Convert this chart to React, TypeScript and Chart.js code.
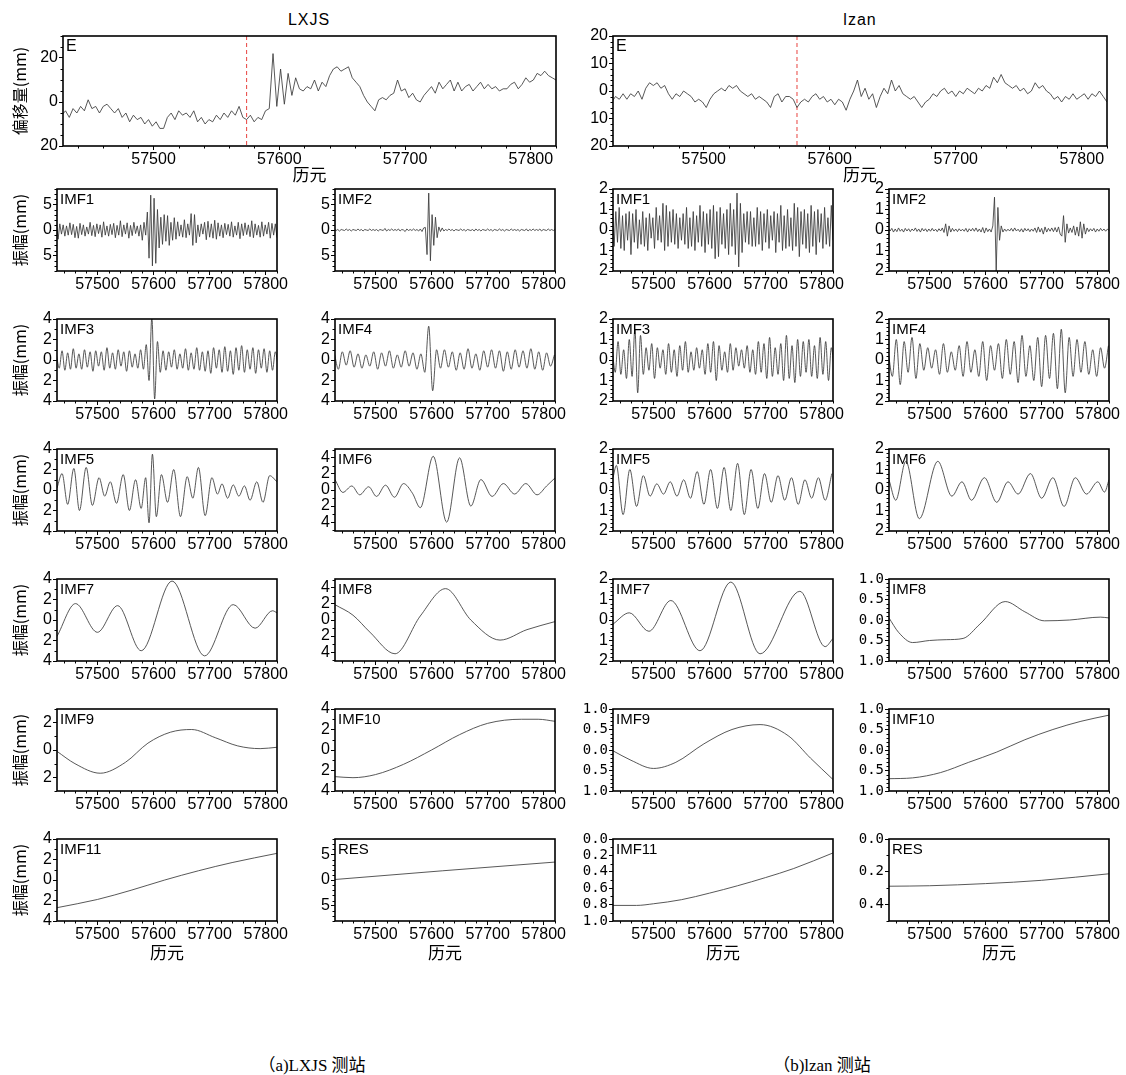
import React, { useEffect, useRef } from "react";
import { Chart, registerables } from "chart.js";
Chart.register(...registerables);

// ---------------- axis data ----------------
const XMIN = 57428;
const XMAX = 57820;
const X_TICKS = [57500, 57600, 57700, 57800];
const X_MINOR = 20;
const EVENT_EPOCH = 57574;

// sampling grids for the sampled series
const NOISE_START = 57427;
const NOISE_STEP = 3;
const OSC3_STEP = 5;
const OSC4_STEP = 7;

// ---------------- LXJS (E) ----------------
const LXJS_E = [
  -6, -4, -7, -3, -5, -2, -4, 1, -3, -2, -5, -2,
  -1, -3, -5, -3, -7, -5, -9, -6, -8, -7, -10, -8,
  -11, -9, -12, -12, -7, -5, -8, -4, -6, -5, -7, -4,
  -9, -7, -10, -8, -9, -6, -8, -5, -7, -4, -6, -2,
  -7, -8, -6, -9, -7, -8, -4, -3, 22, -2, 15, -1,
  13, 3, 11, 6, 5, 7, 6, 10, 5, 9, 7, 12,
  15, 16, 14, 15, 16, 11, 9, 7, 3, 0, -2, -4,
  1, 2, 1, 3, 4, 10, 5, 6, 2, 4, 1, 0,
  3, 5, 7, 4, 9, 6, 8, 10, 5, 9, 5, 7,
  8, 5, 7, 9, 6, 8, 6, 7, 5, 6, 6, 8,
  9, 6, 8, 11, 9, 10, 13, 12, 14, 12, 11, 10,
];
const L_IMF1 = [
  1.5, -1.8, 1.2, -0.8, 1.0, -1.2, 0.8, -1.0, 1.4, -0.9, 1.1, -1.5,
  0.7, -1.6, 1.3, -0.9, 1.0, -1.2, 0.6, -0.8, 1.5, -1.1, 0.9, -1.3,
  1.2, -0.7, 1.0, -1.4, 1.6, -1.0, 0.8, -1.2, 1.1, -0.9, 1.3, -1.5,
  0.9, -1.0, 1.8, -1.3, 1.0, -0.8, 1.4, -1.6, 0.9, -1.1, 1.5, -0.7,
  0.8, -1.2, 1.0, -2.0, 1.5, -1.0, 3.5, -5.5, 6.8, -7.0, 6.2, -6.5,
  4.0, -3.5, 2.5, -2.8, 3.0, -2.2, 2.8, -3.0, 1.5, -2.0, 2.4, -1.8,
  1.6, -1.2, 1.0, -1.4, 2.0, -1.5, 1.2, -1.0, 3.2, -3.0, 3.0, -2.5,
  1.0, -1.3, 1.2, -0.8, 1.5, -1.9, 1.7, -1.4, 1.2, -1.6, 1.9, -1.8,
  1.4, -1.2, 1.0, -1.5, 1.3, -0.9, 1.1, -1.2, 1.6, -1.4, 0.8, -1.0,
  1.5, -1.7, 1.2, -1.1, 1.4, -0.9, 1.0, -1.3, 1.8, -1.5, 1.2, -1.0,
  0.9, -1.4, 1.6, -1.2, 1.0, -0.8, 1.5, -1.6, 1.3, -1.0, 1.2, -1.5,
];
const L_IMF2 = [
  0.2, -0.1, 0.1, -0.2, 0.1, 0, -0.1, 0.2, -0.1, 0.1, -0.2, 0.1,
  0, -0.1, 0.2, -0.1, 0.1, -0.2, 0.1, 0, -0.1, 0.2, -0.1, 0.1,
  -0.1, 0.1, -0.2, 0.1, 0, -0.1, 0.3, -0.2, 0.1, -0.1, 0.2, -0.1,
  0.1, -0.1, 0.2, -0.2, 0.1, 0, -0.3, 0.2, -0.1, 0.1, -0.1, 0.2,
  -0.1, 0.1, -0.2, 0.2, -0.3, 0.4, 0.5, -4.8, 7.2, -6.0, 3.0, -3.0,
  2.5, -1.5, 0.6, -0.3, 0.4, -0.2, 0.1, -0.1, 0.2, -0.1, 0.1, -0.2,
  0.1, 0, -0.1, 0.2, -0.1, 0.1, -0.2, 0.1, 0, -0.1, 0.1, -0.2,
  0.2, -0.1, 0.1, -0.2, 0.1, 0, -0.1, 0.2, -0.1, 0.1, -0.2, 0.1,
  0, -0.1, 0.2, -0.1, 0.1, -0.2, 0.1, 0, -0.1, 0.2, -0.1, 0.1,
  -0.1, 0.1, -0.2, 0.1, 0, -0.1, 0.2, -0.2, 0.1, -0.1, 0.2, -0.1,
  0.1, -0.1, 0.2, -0.2, 0.1, 0, -0.1, 0.2, -0.1, 0.1, -0.1, 0.1,
];
const L_IMF3 = [
  0.5, -0.8, 0.9, -1.0, 0.7, -0.9, 1.1, -0.8, 0.6, -0.9,
  1.0, -0.7, 0.8, -1.1, 0.9, -0.6, 0.8, -1.0, 1.2, -0.8,
  0.7, -0.9, 1.0, -0.6, 0.8, -1.1, 0.9, -0.7, 0.6, -0.8,
  1.0, -0.9, 1.5, -2.0, 4.2, -3.8, 1.8, -1.2, 0.9, -1.0,
  0.8, -0.7, 1.0, -0.9, 0.6, -0.8, 1.1, -1.0, 0.7, -0.9,
  1.2, -1.0, 0.8, -1.1, 0.9, -1.3, 1.2, -0.8, 1.0, -1.2,
  1.3, -1.1, 0.9, -1.4, 1.2, -1.0, 1.4, -1.2, 1.0, -0.9,
  1.2, -1.3, 1.0, -0.8, 1.1, -1.2, 0.9, -1.0, 0.8, -0.6,
];
const L_IMF4 = [
  0.6, -0.9, 0.8, -0.5, 0.9, -0.7, 0.6, -0.8, 0.5, -0.6,
  0.8, -0.9, 0.7, -0.6, 0.9, -0.8, 0.5, -0.7, 0.9, -0.6,
  0.7, -0.9, 0.6, -1.2, 3.3, -3.0, 1.0, -0.8, 1.0, -0.7,
  0.8, -1.0, 0.7, -0.9, 1.1, -0.8, 0.6, -1.0, 0.9, -0.7,
  1.0, -0.8, 0.9, -1.1, 0.8, -0.9, 1.0, -0.7, 0.9, -0.8,
  1.1, -0.9, 0.8, -1.0, 0.7, -0.6, 0.5,
];
const L_IMF5_X = [57428, 57437, 57447, 57458, 57468, 57480, 57491, 57503, 57513, 57523, 57534, 57546, 57557, 57568, 57578, 57586, 57592, 57598, 57605, 57614, 57625, 57636, 57648, 57660, 57670, 57680, 57692, 57704, 57714, 57722, 57732, 57742, 57752, 57762, 57772, 57784, 57795, 57807, 57820];
const L_IMF5_Y = [0.2, 1.6, -1.4, 2.1, -2.0, 2.2, -1.5, 1.2, -0.6, 0.8, -1.3, 1.5, -2.0, 1.0, -1.8, 1.2, -3.2, 3.5, -2.6, 1.5, -1.2, 2.0, -2.6, 1.3, -0.8, 2.2, -2.5, 1.2, -0.4, 0.6, -0.8, 0.5, -0.6, 0.4, -1.0, 0.8, -1.2, 1.4, 0.8];
const L_IMF6_X = [57428, 57442, 57458, 57472, 57488, 57502, 57518, 57534, 57550, 57566, 57580, 57603, 57627, 57650, 57670, 57688, 57708, 57728, 57748, 57768, 57788, 57805, 57820];
const L_IMF6_Y = [1.3, -0.3, 0.5, -0.6, 0.4, -0.8, 0.6, -0.9, 0.8, -0.4, -2.2, 4.2, -4.0, 4.0, -2.0, 1.3, -0.8, 0.8, -0.5, 0.8, -0.6, 0.5, 1.5];
const L_IMF7_X = [57428, 57461, 57500, 57536, 57578, 57633, 57691, 57742, 57781, 57812, 57820];
const L_IMF7_Y = [-1.6, 1.6, -1.2, 1.4, -3.0, 3.8, -3.5, 1.5, -0.8, 0.9, 0.7];
const L_IMF8_X = [57428, 57460, 57490, 57535, 57580, 57625, 57670, 57722, 57770, 57820];
const L_IMF8_Y = [1.9, 0.6, -1.5, -4.2, 0.5, 3.9, 0.0, -2.5, -1.2, -0.2];
const L_IMF9_X = [57428, 57460, 57505, 57550, 57590, 57630, 57668, 57710, 57750, 57790, 57820];
const L_IMF9_Y = [-0.1, -1.0, -1.7, -0.9, 0.5, 1.3, 1.5, 0.9, 0.3, 0.1, 0.2];
const L_IMF10_X = [57428, 57460, 57500, 57550, 57600, 57650, 57700, 57760, 57790, 57820];
const L_IMF10_Y = [-2.6, -2.7, -2.4, -1.4, 0.0, 1.5, 2.6, 3.0, 3.0, 2.8];
const L_IMF11_X = [57428, 57500, 57560, 57620, 57680, 57740, 57820];
const L_IMF11_Y = [-2.7, -1.9, -1.0, 0.0, 0.9, 1.7, 2.6];
const L_RES_X = [57428, 57620, 57820];
const L_RES_Y = [0.1, 1.8, 3.5];

// ---------------- lzan (E) ----------------
const LZAN_E = [
  -4, -2, -3, -1, -3, -1, -2, 0, -3, 1, 3, 2,
  3, 1, 2, -1, -3, -1, -2, 0, -1, -2, -4, -3,
  -4, -6, -3, -1, 0, 1, 0, 2, 1, 2, 0, -1,
  -2, -1, -3, -2, -3, -4, -6, -2, -1, -4, -2, -2,
  -3, -6, -4, -3, -4, -2, -1, -3, -2, -4, -3, -5,
  -3, -4, -7, -3, 0, 4, -2, 1, -3, -1, -6, -2,
  1, -1, 4, 0, 2, -1, -2, -3, -2, -4, -6, -4,
  -3, -1, -2, 0, 1, -1, 0, -2, 0, -1, 1, 0,
  -1, 1, 0, 2, 1, 5, 3, 6, 3, 2, 1, 2,
  0, 1, -1, 0, 3, 1, 2, 0, -1, -3, -2, -4,
  -2, -3, -1, -3, -2, -1, -3, -1, -2, 0, -2, -4,
];
const R_IMF1 = [
  1.0, -0.8, 0.9, -0.6, 1.1, -0.9, 0.7, -1.0, 0.8, -0.5, 0.9, -1.2,
  0.8, -0.6, 1.0, -0.9, 0.5, -0.7, 0.9, -0.8, 0.6, -1.0, 0.8, -0.4,
  0.6, -0.9, 1.1, -0.5, 0.7, -0.6, 1.3, -1.0, 1.2, -0.8, 0.9, -0.6,
  1.0, -0.7, 0.8, -0.9, 0.6, -0.5, 0.8, -0.7, 1.1, -0.9, 0.6, -0.8,
  0.9, -1.0, 0.7, -0.6, 1.2, -0.8, 0.9, -1.1, 0.8, -0.7, 1.0, -0.9,
  1.2, -1.4, 0.9, -1.3, 1.1, -0.7, 0.8, -0.9, 1.0, -1.2, 1.3, -0.8,
  1.0, -1.2, 1.8, -1.8, 1.3, -1.1, 0.8, -0.6, 0.9, -0.7, 0.9, -0.8,
  0.6, -0.8, 1.1, -0.7, 0.9, -1.0, 0.8, -0.6, 1.0, -0.9, 0.7, -0.5,
  0.9, -1.1, 0.8, -0.6, 1.2, -1.0, 0.7, -0.9, 1.0, -0.8, 0.6, -1.0,
  1.3, -0.8, 1.1, -1.3, 0.9, -0.7, 1.0, -0.9, 0.8, -1.1, 1.2, -0.8,
  0.9, -1.2, 1.0, -0.6, 0.8, -0.9, 1.1, -0.7, 0.6, -0.8, 1.2, -0.5,
];
const R_IMF2 = [
  0.1, -0.05, 0.08, -0.1, 0.05, -0.08, 0.1, -0.06, 0.04, -0.1, 0.08, -0.05,
  0.06, -0.08, 0.05, -0.04, 0.1, -0.07, 0.05, -0.1, 0.08, -0.05, 0.06, -0.08,
  0.05, -0.06, 0.08, -0.05, 0.04, -0.08, 0.06, -0.05, 0.1, -0.12, 0.3, -0.3,
  0.2, -0.1, 0.08, -0.06, 0.05, -0.08, 0.06, -0.05, 0.04, -0.06, 0.08, -0.1,
  0.06, -0.05, 0.08, -0.06, 0.1, -0.08, 0.05, -0.1, 0.12, -0.15, 0.1, -0.08,
  0.05, -0.1, 0.2, 1.6, -2.0, 1.1, -0.5, 0.2, -0.1, 0.05, -0.06, 0.04,
  -0.05, 0.08, -0.06, 0.1, -0.05, 0.04, -0.08, 0.06, -0.1, 0.08, -0.05, 0.06,
  -0.08, 0.05, -0.06, 0.1, -0.12, 0.15, -0.1, 0.08, -0.2, 0.15, -0.1, 0.08,
  -0.06, 0.1, -0.08, 0.12, -0.1, 0.15, -0.2, -0.3, 0.7, -0.6, 0.3, -0.15,
  0.1, -0.12, 0.2, -0.25, 0.15, -0.3, 0.4, -0.4, 0.3, -0.2, 0.1, -0.08,
  0.06, -0.05, 0.08, -0.1, 0.05, -0.06, 0.08, -0.04, 0.05, -0.06, 0.04, -0.02,
];
const R_IMF3 = [
  0.4, -0.6, 0.9, -0.7, 0.5, -0.9, 1.0, -0.8, 1.5, -1.6,
  1.2, -0.7, 0.6, -0.5, 0.8, -0.9, 0.6, -0.4, 0.5, -0.7,
  0.8, -0.6, 0.5, -0.8, 0.7, -0.5, 0.9, -0.6, 0.4, -0.5,
  0.6, -0.4, 0.5, -0.7, 0.8, -0.6, 0.9, -1.0, 0.7, -0.5,
  0.4, -0.6, 0.8, -0.5, 0.6, -0.3, 0.5, -0.4, 0.7, -0.6,
  0.5, -0.7, 0.9, -0.6, 0.8, -0.9, 1.1, -0.8, 0.6, -0.7,
  0.8, -1.0, 1.2, -0.9, 0.7, -1.1, 1.0, -0.8, 0.9, -0.6,
  1.0, -0.8, 0.7, -0.9, 1.1, -0.7, 0.9, -1.0, 0.6, -0.4,
];
const R_IMF4 = [
  0.3, -0.8, 1.0, -1.2, 0.9, -0.6, 1.1, -0.9, 0.8, -0.5,
  0.6, -0.4, 0.5, -0.7, 0.8, -0.6, 0.4, -0.5, 0.7, -0.8,
  0.9, -0.6, 0.5, -0.8, 0.9, -1.0, 0.7, -0.5, 0.8, -0.9,
  1.0, -0.7, 0.9, -1.1, 1.2, -0.8, 0.7, -1.0, 1.1, -1.3,
  1.2, -0.9, 1.3, -1.4, 1.5, -1.6, 1.1, -0.8, 1.0, -0.6,
  0.9, -0.7, 0.5, -0.8, 0.6, -0.4, 0.7,
];
const R_IMF5_X = [57428, 57434, 57446, 57458, 57470, 57482, 57494, 57506, 57518, 57530, 57542, 57554, 57566, 57578, 57590, 57602, 57614, 57626, 57638, 57650, 57662, 57674, 57686, 57698, 57710, 57722, 57734, 57746, 57758, 57770, 57782, 57794, 57806, 57818];
const R_IMF5_Y = [0.6, 1.2, -1.2, 1.0, -0.8, 0.7, -0.3, 0.3, -0.2, 0.4, -0.3, 0.5, -0.4, 0.9, -0.7, 1.0, -0.9, 1.1, -1.0, 1.3, -1.2, 1.0, -0.9, 0.8, -0.6, 0.7, -0.5, 0.6, -0.7, 0.5, -0.4, 0.6, -0.5, 0.8];
const R_IMF6_X = [57428, 57440, 57458, 57482, 57515, 57540, 57558, 57575, 57598, 57620, 57640, 57658, 57680, 57700, 57720, 57740, 57760, 57780, 57800, 57812, 57820];
const R_IMF6_Y = [0.5, -0.5, 1.4, -1.4, 1.4, -0.3, 0.4, -0.5, 0.6, -0.6, 0.4, -0.2, 0.8, -0.4, 0.6, -0.8, 0.6, -0.2, 0.4, -0.1, 0.5];
const R_IMF7_X = [57428, 57457, 57492, 57531, 57583, 57638, 57690, 57761, 57806, 57820];
const R_IMF7_Y = [-0.2, 0.35, -0.55, 0.95, -1.5, 1.85, -1.65, 1.4, -1.3, -0.9];
const R_IMF8_X = [57428, 57445, 57470, 57500, 57530, 57560, 57590, 57635, 57670, 57705, 57750, 57805, 57820];
const R_IMF8_Y = [0.05, -0.3, -0.55, -0.5, -0.48, -0.45, -0.1, 0.45, 0.2, -0.02, 0.0, 0.07, 0.05];
const R_IMF9_X = [57428, 57460, 57500, 57540, 57590, 57640, 57690, 57740, 57780, 57820];
const R_IMF9_Y = [-0.02, -0.25, -0.45, -0.3, 0.15, 0.5, 0.62, 0.35, -0.2, -0.72];
const R_IMF10_X = [57428, 57470, 57520, 57570, 57620, 57670, 57720, 57770, 57820];
const R_IMF10_Y = [-0.7, -0.68, -0.55, -0.3, -0.05, 0.25, 0.5, 0.7, 0.85];
const R_IMF11_X = [57428, 57470, 57500, 57550, 57600, 57650, 57700, 57750, 57820];
const R_IMF11_Y = [-0.81, -0.81, -0.79, -0.74, -0.66, -0.57, -0.47, -0.36, -0.17];
const R_RES_X = [57428, 57500, 57600, 57700, 57820];
const R_RES_Y = [-0.288, -0.285, -0.272, -0.252, -0.212];

// tick sets
const T_E_LXJS = [-20, 0, 20];
const T_E_LZAN = [-20, -10, 0, 10, 20];
const T_8 = [-5, 0, 5];
const T_4 = [-4, -2, 0, 2, 4];
const T_3 = [-2, 0, 2];
const T_2 = [-2, -1, 0, 1, 2];
const T_1 = [-1, -0.5, 0, 0.5, 1];
const T_11R = [-1, -0.8, -0.6, -0.4, -0.2, 0];
const T_RESR = [-0.4, -0.2, 0];

// ---------------- layout (positions only) ----------------
const COL_LEFT = [57, 335, 613, 889];
const COL_W = 220;
const ROW_TOP = [189, 319, 449, 579, 709, 839];
const ROW_H = 82;

const NUM_FONT = '"Liberation Sans Narrow", "Liberation Sans", Arial, sans-serif';
const MONO_FONT = '"DejaVu Sans Mono", monospace';
const CJK_FONT = '"Noto Sans CJK SC", "Liberation Sans", sans-serif';
const LABEL_FONT = '"Liberation Sans", Arial, sans-serif';

type Spec = {
  key: string;
  label: string;
  rect: [number, number, number, number];
  pad: [number, number, number, number];
  xs: number[];
  ys: number[];
  yMin: number;
  yMax: number;
  yTicks: number[];
  yMinor: number;
  dec: number;
  smooth: boolean;
  mono?: boolean;
  yTitle?: string;
  yTitleOff?: number;
  xTitle?: boolean;
  xTitlePad?: number;
  event?: boolean;
  big?: boolean;
};

function grid(start: number, step: number, n: number) {
  const out: number[] = [];
  for (let i = 0; i < n; i++) out.push(start + i * step);
  return out;
}

function buildSpecs(): Spec[] {
  const specs: Spec[] = [];
  specs.push({
    key: "lxjsE", label: "E", rect: [63, 36, 493, 110], pad: [63, 10, 30, 42],
    xs: grid(NOISE_START, NOISE_STEP, LXJS_E.length), ys: LXJS_E,
    yMin: -20, yMax: 30, yTicks: T_E_LXJS, yMinor: 5, dec: 0, smooth: false,
    yTitle: "偏移量(mm)", yTitleOff: 20, xTitle: true, xTitlePad: 3, event: true, big: true,
  });
  specs.push({
    key: "lzanE", label: "E", rect: [613, 36, 494, 110], pad: [60, 10, 30, 42],
    xs: grid(NOISE_START, NOISE_STEP, LZAN_E.length), ys: LZAN_E,
    yMin: -20, yMax: 20, yTicks: T_E_LZAN, yMinor: 2, dec: 0, smooth: false,
    xTitle: true, xTitlePad: 3, event: true, big: true,
  });

  type Row = [string, number[], number[], number, number, number[], number, number, boolean, boolean?];
  const left: Row[] = [
    ["IMF1", grid(NOISE_START, NOISE_STEP, L_IMF1.length), L_IMF1, -8, 8, T_8, 1, 0, false],
    ["IMF2", grid(NOISE_START, NOISE_STEP, L_IMF2.length), L_IMF2, -8, 8, T_8, 1, 0, false],
    ["IMF3", grid(NOISE_START, OSC3_STEP, L_IMF3.length), L_IMF3, -4, 4, T_4, 1, 0, true],
    ["IMF4", grid(NOISE_START, OSC4_STEP, L_IMF4.length), L_IMF4, -4, 4, T_4, 1, 0, true],
    ["IMF5", L_IMF5_X, L_IMF5_Y, -4, 4, T_4, 1, 0, true],
    ["IMF6", L_IMF6_X, L_IMF6_Y, -5.1, 5.1, T_4, 1, 0, true],
    ["IMF7", L_IMF7_X, L_IMF7_Y, -4, 4, T_4, 1, 0, true],
    ["IMF8", L_IMF8_X, L_IMF8_Y, -5.1, 5.1, T_4, 1, 0, true],
    ["IMF9", L_IMF9_X, L_IMF9_Y, -3, 3, T_3, 1, 0, true],
    ["IMF10", L_IMF10_X, L_IMF10_Y, -4, 4, T_4, 1, 0, true],
    ["IMF11", L_IMF11_X, L_IMF11_Y, -4, 4, T_4, 1, 0, true],
    ["RES", L_RES_X, L_RES_Y, -8, 8, T_8, 1, 0, true],
  ];
  const right: Row[] = [
    ["IMF1", grid(NOISE_START, NOISE_STEP, R_IMF1.length), R_IMF1, -2, 2, T_2, 0.2, 0, false],
    ["IMF2", grid(NOISE_START, NOISE_STEP, R_IMF2.length), R_IMF2, -2, 2, T_2, 0.2, 0, false],
    ["IMF3", grid(NOISE_START, OSC3_STEP, R_IMF3.length), R_IMF3, -2, 2, T_2, 0.2, 0, true],
    ["IMF4", grid(NOISE_START, OSC4_STEP, R_IMF4.length), R_IMF4, -2, 2, T_2, 0.2, 0, true],
    ["IMF5", R_IMF5_X, R_IMF5_Y, -2, 2, T_2, 0.2, 0, true],
    ["IMF6", R_IMF6_X, R_IMF6_Y, -2, 2, T_2, 0.2, 0, true],
    ["IMF7", R_IMF7_X, R_IMF7_Y, -2, 2, T_2, 0.2, 0, true],
    ["IMF8", R_IMF8_X, R_IMF8_Y, -1, 1, T_1, 0.1, 1, true, true],
    ["IMF9", R_IMF9_X, R_IMF9_Y, -1, 1, T_1, 0.1, 1, true, true],
    ["IMF10", R_IMF10_X, R_IMF10_Y, -1, 1, T_1, 0.1, 1, true, true],
    ["IMF11", R_IMF11_X, R_IMF11_Y, -1, 0, T_11R, 0.1, 1, true, true],
    ["RES", R_RES_X, R_RES_Y, -0.5, 0, T_RESR, 0.1, 1, true, true],
  ];
  const addSide = (rows: Row[], colBase: number, side: string) => {
    rows.forEach((r, i) => {
      const row = Math.floor(i / 2);
      const col = colBase + (i % 2);
      const last = row === ROW_TOP.length - 1;
      specs.push({
        key: side + r[0],
        label: r[0],
        rect: [COL_LEFT[col], ROW_TOP[row], COL_W, ROW_H],
        pad: [56, 10, 30, last ? 46 : 26],
        xs: r[1], ys: r[2], yMin: r[3], yMax: r[4], yTicks: r[5], yMinor: r[6],
        dec: r[7], smooth: r[8], mono: !!r[9],
        yTitle: col === 0 ? "振幅(mm)" : undefined,
        yTitleOff: 19,
        xTitle: last, xTitlePad: 4,
      });
    });
  };
  addSide(left, 0, "L");
  addSide(right, 2, "R");
  return specs;
}

function makeConfig(s: Spec): any {
  const [padL, padT, padR, padB] = s.pad;
  const fmt = (v: number) => {
    const a = Math.abs(v);
    return s.dec > 0 ? a.toFixed(s.dec) : String(Math.round(a));
  };
  const decor = {
    id: "decor" + s.key,
    beforeDatasetsDraw(chart: any) {
      if (!s.event) return;
      const { ctx, chartArea: a, scales } = chart;
      const px = scales.x.getPixelForValue(EVENT_EPOCH);
      ctx.save();
      ctx.strokeStyle = "#e8433f";
      ctx.lineWidth = 1;
      ctx.setLineDash([4, 3]);
      ctx.beginPath();
      ctx.moveTo(px, a.top);
      ctx.lineTo(px, a.bottom);
      ctx.stroke();
      ctx.restore();
    },
    afterDatasetsDraw(chart: any) {
      const { ctx, chartArea: a, scales } = chart;
      ctx.save();
      ctx.strokeStyle = "#000";
      ctx.lineWidth = 1;
      ctx.beginPath();
      for (let v = Math.ceil(XMIN / X_MINOR) * X_MINOR; v <= XMAX; v += X_MINOR) {
        if (X_TICKS.indexOf(v) >= 0) continue;
        const px = Math.round(scales.x.getPixelForValue(v)) + 0.5;
        ctx.moveTo(px, a.bottom);
        ctx.lineTo(px, a.bottom + 2.5);
      }
      const n0 = Math.ceil(s.yMin / s.yMinor - 1e-6);
      const n1 = Math.floor(s.yMax / s.yMinor + 1e-6);
      for (let n = n0; n <= n1; n++) {
        const v = n * s.yMinor;
        if (s.yTicks.some((t) => Math.abs(t - v) < 1e-6)) continue;
        const py = Math.round(scales.y.getPixelForValue(v)) + 0.5;
        ctx.moveTo(a.left, py);
        ctx.lineTo(a.left - 2.5, py);
      }
      ctx.stroke();
      ctx.lineWidth = 1.6;
      ctx.strokeRect(a.left, a.top, a.right - a.left, a.bottom - a.top);
      ctx.fillStyle = "#000";
      ctx.font = (s.big ? "16px " : "15px ") + LABEL_FONT;
      ctx.textBaseline = "top";
      ctx.textAlign = "left";
      ctx.fillText(s.label, a.left + 3, a.top + 3);
      ctx.restore();
    },
  };

  return {
    type: "line",
    data: {
      datasets: [
        {
          data: s.xs.map((x, i) => ({ x, y: s.ys[i] })),
          borderColor: "#3a3a3a",
          borderWidth: 0.85,
          pointRadius: 0,
          fill: false,
          tension: s.smooth ? 0.4 : 0,
          cubicInterpolationMode: s.smooth ? "monotone" : "default",
        },
      ],
    },
    options: {
      responsive: false,
      animation: false,
      events: [],
      layout: { padding: { left: 0, top: padT, right: padR, bottom: 0 } },
      plugins: { legend: { display: false }, tooltip: { enabled: false }, title: { display: false } },
      scales: {
        x: {
          type: "linear",
          min: XMIN,
          max: XMAX,
          afterBuildTicks: (sc: any) => {
            sc.ticks = X_TICKS.map((v) => ({ value: v }));
          },
          afterFit: (sc: any) => {
            sc.height = padB;
            sc.paddingLeft = 0;
            sc.paddingRight = 0;
          },
          grid: { display: true, drawOnChartArea: false, drawTicks: true, tickLength: 4, color: "#000", lineWidth: 1 },
          border: { display: false },
          ticks: {
            autoSkip: false,
            maxRotation: 0,
            padding: 0,
            color: "#000",
            font: { family: NUM_FONT, size: 16 },
            callback: (v: number) => String(v),
          },
          title: {
            display: !!s.xTitle,
            text: "历元",
            color: "#000",
            font: { family: CJK_FONT, size: 17 },
            padding: { top: 0, bottom: s.xTitlePad || 0 },
          },
        },
        y: {
          type: "linear",
          min: s.yMin,
          max: s.yMax,
          afterBuildTicks: (sc: any) => {
            sc.ticks = s.yTicks.map((v) => ({ value: v }));
          },
          afterFit: (sc: any) => {
            sc.width = padL;
            sc.paddingTop = 0;
            sc.paddingBottom = 0;
          },
          grid: { display: true, drawOnChartArea: false, drawTicks: true, tickLength: 4, color: "#000", lineWidth: 1 },
          border: { display: false },
          ticks: {
            autoSkip: false,
            padding: 1,
            color: "#000",
            font: s.mono ? { family: MONO_FONT, size: 14 } : { family: NUM_FONT, size: 16 },
            callback: (v: number) => fmt(v),
          },
          title: {
            display: !!s.yTitle,
            text: s.yTitle || "",
            color: "#000",
            font: { family: CJK_FONT, size: 16 },
            padding: { top: (s.yTitleOff || 0) - 9.6, bottom: 0 },
          },
        },
      },
    },
    plugins: [decor],
  };
}

function Panel({ s }: { s: Spec }) {
  const ref = useRef<HTMLCanvasElement>(null);
  const [x, y, w, h] = s.rect;
  const [pl, pt, pr, pb] = s.pad;
  const cw = w + pl + pr;
  const ch = h + pt + pb;
  useEffect(() => {
    if (!ref.current) return;
    const chart = new Chart(ref.current, makeConfig(s));
    return () => chart.destroy();
  }, []);
  return (
    <canvas
      ref={ref}
      width={cw}
      height={ch}
      style={{ position: "absolute", left: x - pl, top: y - pt, width: cw, height: ch }}
    />
  );
}

const SPECS = buildSpecs();

export default function App() {
  const txt = (text: string, cx: number, cy: number, font: string, extra: any = {}) => (
    <div
      style={{
        position: "absolute",
        left: cx,
        top: cy,
        transform: "translate(-50%, -50%)",
        whiteSpace: "nowrap",
        font,
        color: "#000",
        ...extra,
      }}
    >
      {text}
    </div>
  );
  return (
    <div style={{ position: "relative", width: 1126, height: 1075, background: "#fff", overflow: "hidden" }}>
      <style>{"body{margin:0}"}</style>
      {txt("LXJS", 309, 20, '16px "Liberation Sans", Arial, sans-serif', { letterSpacing: "1px" })}
      {txt("lzan", 860, 20, '16px "Liberation Sans", Arial, sans-serif', { letterSpacing: "1px" })}
      {SPECS.map((s) => (
        <Panel key={s.key} s={s} />
      ))}
      {txt("（a)LXJS 测站", 312, 1063, '17px "Liberation Serif", "Noto Sans CJK SC", serif')}
      {txt("（b)lzan 测站", 822, 1063, '17px "Liberation Serif", "Noto Sans CJK SC", serif')}
    </div>
  );
}
